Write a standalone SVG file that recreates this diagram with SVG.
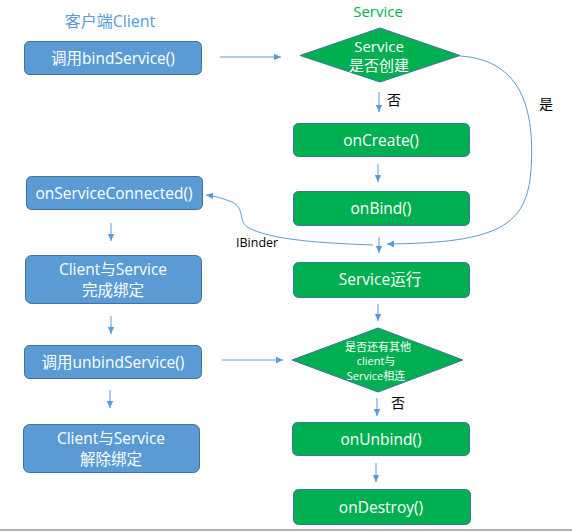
<svg xmlns="http://www.w3.org/2000/svg" width="572" height="531" viewBox="0 0 572 531">
<defs>
<marker id="ah" markerWidth="8" markerHeight="8" refX="7" refY="4" orient="auto" markerUnits="userSpaceOnUse">
<path d="M0,0.8 L7,4 L0,7.2 Z" fill="#5b9bd5"/>
</marker>
<style>
.bb{fill:#5b9bd5;stroke:#41719c;stroke-width:1}
.gb{fill:#00b050;stroke:#41719c;stroke-width:1}
.t{font-family:"Open Sans","Noto Sans CJK SC",sans-serif;fill:#fff;text-anchor:middle}
.m{font-size:15.5px}
.s{font-size:11px}
.lbl{font-family:"Noto Sans CJK SC","Open Sans",sans-serif;font-size:14px;fill:#000}
.c{fill:none;stroke:#5b9bd5;stroke-width:1;marker-end:url(#ah)}
</style>
</defs>
<rect width="572" height="531" fill="#fff"/>
<line x1="0" y1="530" x2="572" y2="530" stroke="#999" stroke-width="1.5"/>
<text x="110" y="27" font-family="'Open Sans','Noto Sans CJK SC',sans-serif" font-size="16" fill="#5b9bd5" text-anchor="middle">客户端Client</text>
<text x="378" y="17" font-family="'Open Sans','Noto Sans CJK SC',sans-serif" font-size="15" fill="#00b050" text-anchor="middle">Service</text>

<g id="bindService">
<rect class="bb" x="24.5" y="41.5" width="177" height="33" rx="5"/>
<text class="t m" x="113" y="63.5">调用bindService()</text>
</g>
<g id="onServiceConnected">
<rect class="bb" x="26.5" y="176.5" width="176" height="33" rx="5"/>
<text class="t m" x="114" y="198.5">onServiceConnected()</text>
</g>
<g id="bound">
<rect class="bb" x="25.5" y="255.5" width="176" height="48" rx="6"/>
<text class="t m" x="113" y="275">Client与Service</text>
<text class="t m" x="113" y="296">完成绑定</text>
</g>
<g id="unbindService">
<rect class="bb" x="24.5" y="345.5" width="177" height="33" rx="5"/>
<text class="t m" x="113" y="367.5">调用unbindService()</text>
</g>
<g id="unbound">
<rect class="bb" x="23.5" y="424.5" width="176" height="48" rx="6"/>
<text class="t m" x="111" y="444">Client与Service</text>
<text class="t m" x="111" y="465">解除绑定</text>
</g>

<g id="isCreated">
<polygon class="gb" points="380,28 460,55.5 380,82 300,55.5"/>
<text class="t" font-size="15" x="379" y="52">Service</text>
<text class="t" font-size="15" x="379" y="71">是否创建</text>
</g>
<g id="onCreate">
<rect class="gb" x="293.5" y="123.5" width="176" height="33" rx="5"/>
<text class="t m" x="381" y="146">onCreate()</text>
</g>
<g id="onBind">
<rect class="gb" x="293.5" y="191.5" width="176" height="34" rx="5"/>
<text class="t m" x="381" y="214">onBind()</text>
</g>
<g id="serviceRunning">
<rect class="gb" x="293.5" y="262.5" width="176" height="35" rx="5"/>
<text class="t m" x="380" y="285">Service运行</text>
</g>
<g id="otherClients">
<polygon class="gb" points="378,328 463,360 378,392 292,360"/>
<text class="t s" x="378" y="351">是否还有其他</text>
<text class="t s" x="376" y="365">client与</text>
<text class="t s" x="376" y="379.5">Service相连</text>
</g>
<g id="onUnbind">
<rect class="gb" x="292.5" y="422.5" width="177" height="33" rx="5"/>
<text class="t m" x="381" y="445">onUnbind()</text>
</g>
<g id="onDestroy">
<rect class="gb" x="293.5" y="489.5" width="177" height="35" rx="5"/>
<text class="t m" x="381" y="513">onDestroy()</text>
</g>

<g id="connectors">
<path class="c" d="M220,57 L281,57"/>
<path class="c" d="M379,92 L379,112"/>
<path class="c" d="M460,56 C522,60 535,110 531,170 C527,225 500,243 387,244"/>
<path class="c" d="M378,164 L378,182"/>
<path class="c" d="M379,237 L379,253"/>
<path class="c" d="M373,245 C320,243 270,240 247,227 C238,220 245,208 232,202 C222,198 214,196 206,195"/>
<path class="c" d="M378,304 L378,321"/>
<path class="c" d="M377,398 L377,416"/>
<path class="c" d="M376,463 L376,482"/>
<path class="c" d="M222,360 L283,360"/>
<path class="c" d="M111,223 L111,241"/>
<path class="c" d="M111,316 L111,334"/>
<path class="c" d="M110,390 L110,408"/>
</g>
<text class="lbl" x="387" y="105">否</text>
<text class="lbl" x="539" y="109">是</text>
<text x="236" y="247" font-family="'Open Sans',sans-serif" font-size="12.5" fill="#000">IBinder</text>
<text class="lbl" x="391" y="408">否</text>
</svg>
